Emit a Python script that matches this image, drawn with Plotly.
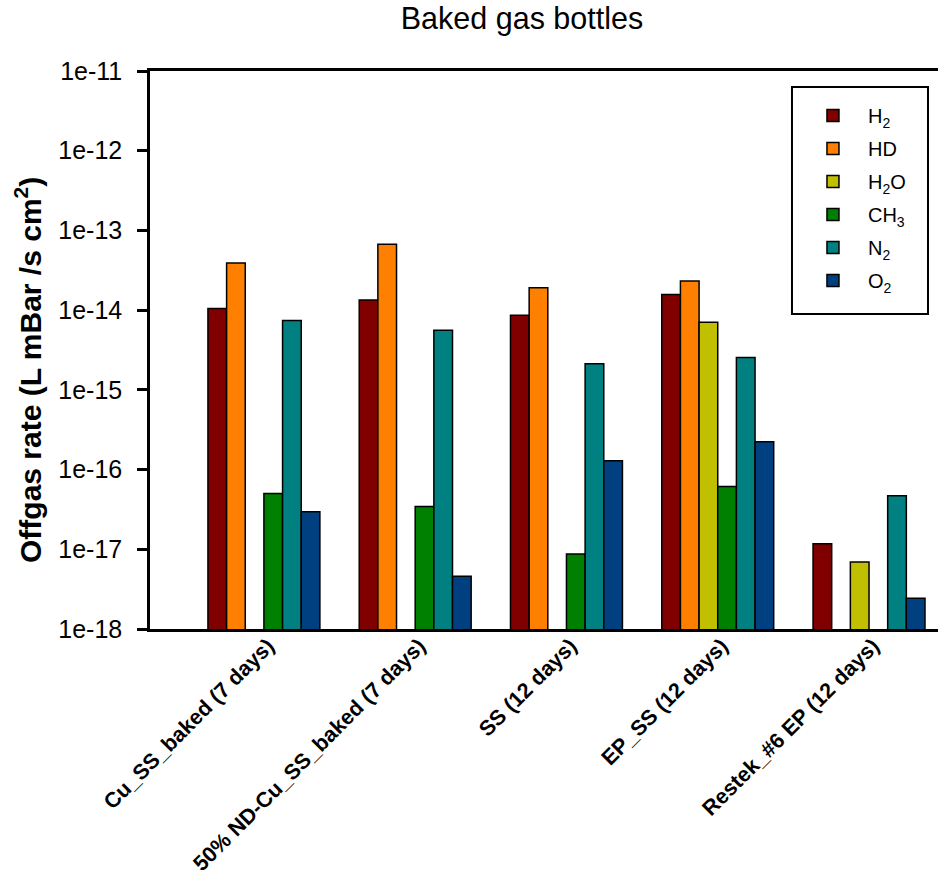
import plotly.graph_objects as go

categories = ["Cu_SS_baked (7 days)", "50% ND-Cu_SS_baked (7 days)", "SS (12 days)",
              "EP_SS (12 days)", "Restek_#6 EP (12 days)"]

series_names = ["H<sub>2</sub>", "HD", "H<sub>2</sub>O", "CH<sub>3</sub>", "N<sub>2</sub>", "O<sub>2</sub>"]
series_colors = ["#800000", "#FF8000", "#C0C000", "#008000", "#008080", "#004080"]

h2 = [1.05e-14, 1.34e-14, 8.6e-15, 1.57e-14, 1.17e-17]
hd = [3.9e-14, 6.7e-14, 1.91e-14, 2.32e-14, None]
h2o = [None, None, None, 7.07e-15, 6.95e-18]
ch3 = [5.0e-17, 3.44e-17, 8.7e-18, 6.15e-17, None]
n2 = [7.4e-15, 5.6e-15, 2.12e-15, 2.55e-15, 4.69e-17]
o2 = [2.95e-17, 4.6e-18, 1.29e-16, 2.24e-16, 2.43e-18]

series_values = [h2, hd, h2o, ch3, n2, o2]

y_tickvals = [1e-18, 1e-17, 1e-16, 1e-15, 1e-14, 1e-13, 1e-12, 1e-11]
y_ticktext = ["1e-18", "1e-17", "1e-16", "1e-15", "1e-14", "1e-13", "1e-12", "1e-11"]

FONT = "Arial, Liberation Sans, sans-serif"

fig = go.Figure()
for name, color, vals in zip(series_names, series_colors, series_values):
    fig.add_trace(go.Bar(
        x=categories, y=vals, name=name, legendgroup=name,
        marker=dict(color=color, line=dict(color="black", width=1.5)),
    ))

fig.update_layout(
    width=938, height=879,
    margin=dict(l=150, r=0, t=71, b=250, autoexpand=False),
    paper_bgcolor="white", plot_bgcolor="white",
    barmode="group", bargap=0.26, bargroupgap=0,
    font=dict(family=FONT, color="black"),
    title=dict(text="Baked gas bottles", font=dict(size=30.5, family=FONT, color="black"),
               x=522 / 938, xref="container", xanchor="center",
               y=1 - 18 / 879, yref="container", yanchor="middle"),
    showlegend=True,
    legend=dict(x=0.8223, y=0.955, xanchor="left", yanchor="top",
                borderwidth=0, bgcolor="rgba(0,0,0,0)",
                font=dict(size=20, family=FONT, color="black"),
                itemwidth=60, tracegroupgap=4),
    shapes=[dict(type="rect", xref="paper", yref="paper",
                 x0=0.8147, x1=0.9873, y0=0.5645, y1=0.9713,
                 line=dict(color="black", width=2), layer="below")],
    annotations=[dict(text="Offgas rate (L mBar /s cm<sup>2</sup>)", textangle=-90,
                      xref="paper", yref="paper", x=-0.1548, y=0.4642,
                      xanchor="center", yanchor="middle", showarrow=False,
                      font=dict(size=30, family=FONT, color="black", weight="bold"))],
)

fig.update_xaxes(
    range=[-0.753, 4.456], showline=True, mirror=True, linecolor="black", linewidth=2.5,
    ticks="", showgrid=False, zeroline=False, tickangle=-45, automargin=False,
    ticklabelstandoff=-7, ticklabelshift=4,
    tickfont=dict(size=21.5, family=FONT, color="black", weight="bold"),
)
fig.update_yaxes(
    type="log", range=[-18, -11], tickvals=y_tickvals, ticktext=y_ticktext,
    showline=True, linecolor="black", linewidth=2.5, ticks="outside", ticklen=10, tickwidth=2.5,
    tickcolor="black", showgrid=False, zeroline=False, ticklabelstandoff=10, automargin=False,
    tickfont=dict(size=25, family=FONT, color="black"),
)

fig.write_html("out.html", config={"displayModeBar": False},
               post_script="document.body.style.margin='0';document.body.style.overflow='hidden';")
